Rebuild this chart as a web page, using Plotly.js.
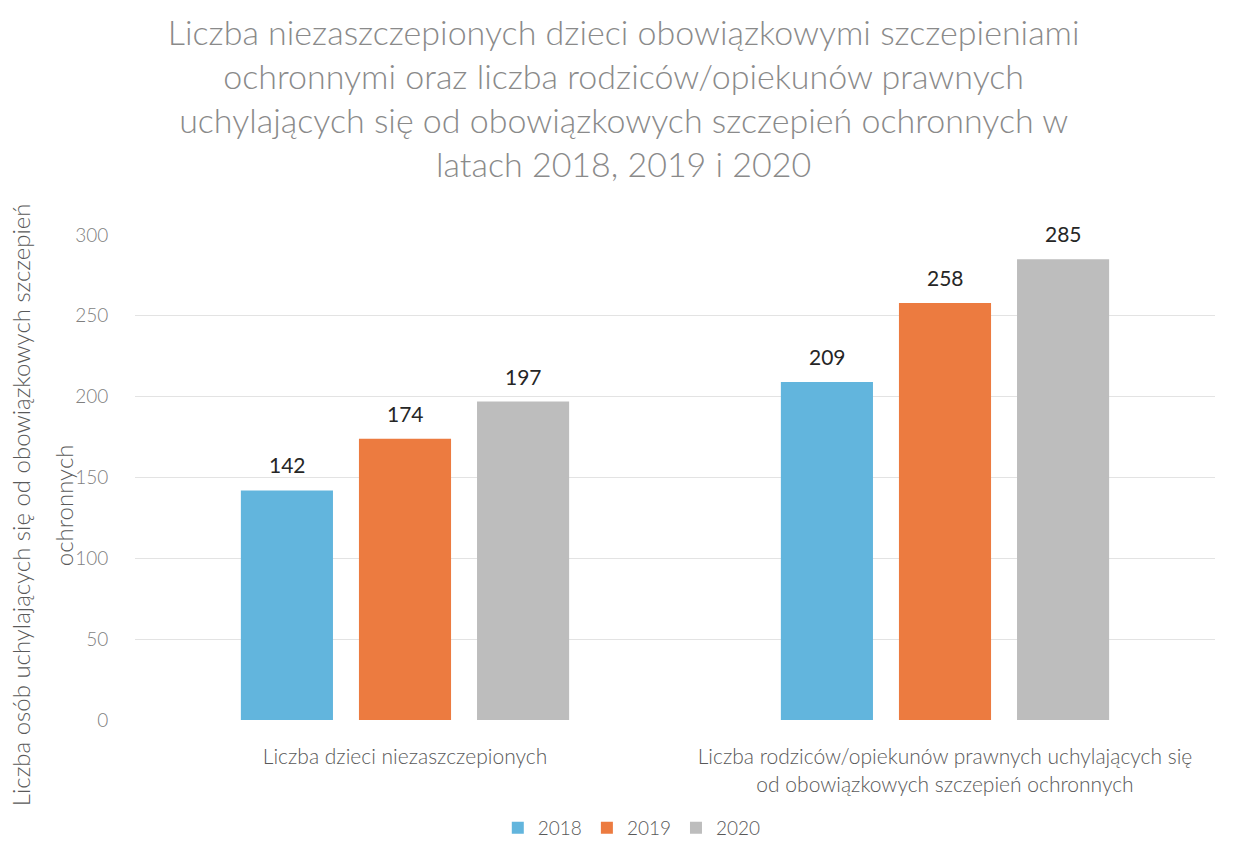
<!DOCTYPE html>
<html>
<head>
<meta charset="utf-8">
<script src="https://cdn.plot.ly/plotly-3.0.1.min.js"></script>
<style>
  body { margin: 0; background: #fff; }
  #chart { width: 1235px; height: 858px; }
</style>
</head>
<body>
<div id="chart"></div>
<script>
// categories on the x axis (two groups)
var categories = [
    'Liczba dzieci niezaszczepionych',
    'Liczba rodziców/opiekunów prawnych uchylających się<br>od obowiązkowych szczepień ochronnych'
];
var years = ['2018', '2019', '2020'];
var values2018 = [142, 209];
var values2019 = [174, 258];
var values2020 = [197, 285];
var yTicks = [0, 50, 100, 150, 200, 250, 300];

var colors = ['#62b5dd', '#ec7b40', '#bdbdbd'];
var allValues = [values2018, values2019, values2020];

// pixel offset of each year's bar from the category centre
var barShift = [-118, 0, 118];

var data = [];
var labels = [];
for (var i = 0; i < years.length; i++) {
    data.push({
        type: 'bar',
        name: years[i],
        x: categories,
        y: allValues[i],
        marker: {color: colors[i]},
        hoverinfo: 'y'
    });
    // value labels above bars, a bit higher than plotly's own 'outside' text
    for (var j = 0; j < categories.length; j++) {
        labels.push({
            xref: 'x', yref: 'y',
            x: categories[j],
            y: allValues[i][j],
            text: String(allValues[i][j]),
            xshift: barShift[i],
            yshift: 11,
            yanchor: 'bottom',
            showarrow: false,
            font: {size: 21, color: '#262626'}
        });
    }
}

var yTitle = {
    textangle: -90,
    xref: 'paper', yref: 'paper',
    xanchor: 'center', yanchor: 'middle',
    y: 0.443,
    showarrow: false,
    font: {size: 24, color: '#595959', weight: 300}
};
labels.push(Object.assign({}, yTitle, {
    text: 'Liczba osób uchylających się od obowiązkowych szczepień',
    x: (20 - 135) / 1080
}));
labels.push(Object.assign({}, yTitle, {
    text: 'ochronnych',
    x: (63 - 135) / 1080
}));

var layout = {
    width: 1235,
    height: 858,
    paper_bgcolor: '#ffffff',
    plot_bgcolor: '#ffffff',
    font: {family: 'Lato, sans-serif', color: '#595959'},
    barmode: 'group',
    bargap: 0.344,
    bargroupgap: 0.22,
    margin: {l: 135, r: 20, t: 235, b: 138},
    title: {
        text: 'Liczba niezaszczepionych dzieci obowiązkowymi szczepieniami<br>' +
              'ochronnymi oraz liczba rodziców/opiekunów prawnych<br>' +
              'uchylających się od obowiązkowych szczepień ochronnych w<br>' +
              'latach 2018, 2019 i 2020',
        font: {family: 'Lato, sans-serif', size: 34, color: '#8a8a8a', weight: 300},
        x: 0.505,
        xanchor: 'center',
        y: 0.948,
        yanchor: 'top'
    },
    xaxis: {
        tickfont: {size: 21, color: '#595959', weight: 300},
        showline: false,
        ticks: 'outside',
        ticklen: 18,
        tickcolor: 'rgba(0,0,0,0)'
    },
    yaxis: {
        range: [0, 300],
        tickvals: yTicks,
        tickfont: {size: 19, color: '#7f7f7f', weight: 300},
        gridcolor: '#e3e3e3',
        gridwidth: 1,
        zeroline: false,
        showline: false,
        ticks: 'outside',
        ticklen: 22,
        tickcolor: 'rgba(0,0,0,0)'
    },
    showlegend: true,
    legend: {
        orientation: 'h',
        x: 0.46,
        xanchor: 'center',
        yref: 'container',
        y: 0.035,
        yanchor: 'middle',
        font: {size: 19, color: '#595959', weight: 300},
        itemwidth: 30,
        traceorder: 'normal'
    },
    annotations: labels
};

Plotly.newPlot('chart', data, layout, {displayModeBar: false});
</script>
</body>
</html>
